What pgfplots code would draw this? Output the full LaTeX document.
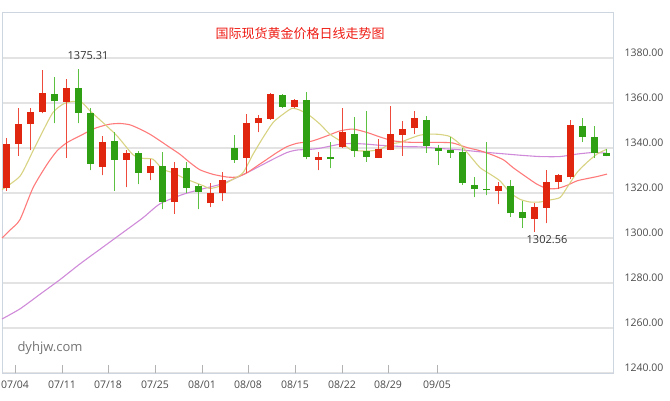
\documentclass[border=0pt]{standalone}
\usepackage{pgfplots}
\pgfplotsset{compat=1.18}
\usepackage{pgfplotstable}
\usepackage{fontspec}
\setmainfont{Open Sans}
\newfontfamily\cjk{Noto Sans CJK SC}

\definecolor{upred}{HTML}{E0260E}
\definecolor{upwick}{HTML}{EE4B3C}
\definecolor{dngreen}{HTML}{2FA014}
\definecolor{dnwick}{HTML}{5CC040}
\definecolor{maA}{HTML}{D8D383}
\definecolor{maB}{HTML}{FF7B7B}
\definecolor{maC}{HTML}{CF8BD9}
\definecolor{gridc}{HTML}{E3E3E3}
\definecolor{framec}{HTML}{CDD6E0}
\definecolor{titlered}{HTML}{EE1C14}
\definecolor{labc}{HTML}{4A4A4A}

% up (red) candles: x = pixel position, o h l c
\pgfplotstableread{
x o h l c
6   1322.1 1344.6 1320.9 1342.0
18  1341.7 1358.0 1336.5 1350.6
30  1350.6 1358.0 1339.0 1355.8
42  1356.1 1374.8 1355.4 1364.3
66  1360.5 1370.6 1335.7 1366.6
102 1331.5 1345.4 1327.8 1342.7
126 1334.8 1339.0 1322.6 1337.7
150 1328.9 1335.0 1325.6 1331.9
174 1316.0 1334.0 1310.8 1331.0
210 1315.4 1324.6 1313.7 1320.1
222 1320.1 1329.3 1316.4 1325.6
246 1335.7 1355.3 1329.0 1350.9
258 1350.9 1354.6 1346.9 1353.3
270 1352.8 1364.3 1352.5 1364.0
294 1358.3 1361.7 1358.0 1361.3
318 1334.8 1338.4 1330.1 1336.2
342 1340.5 1357.7 1340.2 1346.9
378 1335.7 1343.9 1335.5 1339.4
390 1339.3 1358.5 1339.0 1346.4
402 1345.8 1352.1 1336.5 1348.6
414 1348.7 1356.3 1346.2 1353.2
498 1320.9 1325.1 1315.0 1323.2
534 1308.6 1315.4 1302.56 1313.8
546 1313.5 1330.3 1306.5 1325.1
558 1325.1 1328.6 1321.7 1327.8
570 1326.9 1352.6 1326.1 1350.3
}\uptable

% down (green) candles
\pgfplotstableread{
x o h l c
54  1364.0 1371.4 1350.9 1360.7
78  1366.8 1375.31 1351.0 1355.5
90  1355.5 1358.0 1330.1 1333.0
114 1342.9 1346.9 1320.9 1334.8
138 1338.0 1338.5 1323.8 1328.9
162 1331.9 1338.4 1312.7 1316.1
186 1331.0 1334.0 1320.0 1322.1
198 1323.1 1324.1 1312.7 1320.6
234 1339.9 1345.8 1333.5 1334.5
282 1363.5 1363.8 1358.0 1358.3
306 1361.3 1364.7 1335.0 1336.0
330 1335.8 1342.7 1331.0 1335.0
354 1346.4 1353.8 1336.0 1338.7
366 1338.7 1356.5 1333.9 1336.0
426 1352.6 1354.1 1338.0 1341.0
438 1340.2 1341.4 1332.4 1338.8
450 1339.2 1344.7 1335.6 1338.0
462 1338.3 1340.2 1323.7 1324.6
474 1323.4 1326.9 1318.2 1321.7
486 1322.0 1342.5 1319.0 1321.2
510 1323.2 1325.8 1309.5 1311.0
522 1311.7 1316.3 1304.6 1309.0
582 1349.9 1353.2 1342.8 1345.0
594 1345.0 1349.6 1335.6 1338.0
606 1338.0 1339.5 1336.3 1336.5
}\dntable

\begin{document}
\begin{tikzpicture}
\begin{axis}[
  scale only axis, width=611pt, height=360pt,
  xmin=2, xmax=613, ymin=1240, ymax=1400,
  clip=false,
  axis line style={draw=framec, line width=1pt},
  ytick={1240,1260,1280,1300,1320,1340,1360,1380},
  yticklabels={1240.00,1260.00,1280.00,1300.00,1320.00,1340.00,1360.00,1380.00},
  yticklabel pos=right,
  ytick style={draw opacity=0},
  yticklabel style={font=\fontsize{10.5}{12}\selectfont, text=labc, xshift=8pt, yshift=5pt},
  ymajorgrids, grid style={draw=gridc, line width=1.2pt},
  xtick={15,62,108,155,202,248,295,342,388,437},
  xticklabels={07/04,07/11,07/18,07/25,08/01,08/08,08/15,08/22,08/29,09/05},
  xtick pos=bottom, xtick align=inside,
  xtick style={draw opacity=0},
  major tick length=8pt,
  xticklabel style={font=\fontsize{10.5}{12}\selectfont, text=labc, yshift=-4pt},
  candle/.style={only marks, mark=*, mark size=0pt, mark options={draw=none, fill=none}},
]
\coordinate (SW) at (rel axis cs:0,0);
\coordinate (NE) at (rel axis cs:1,1);

% tick marks on the lower frame
\addplot[candle, error bars/.cd, y dir=plus, y explicit, error mark=none,
  error bar style={draw=black!30, line width=0.8pt}]
  coordinates {(15,1240) +- (0,3.6) (62,1240) +- (0,3.6) (108,1240) +- (0,3.6)
  (155,1240) +- (0,3.6) (202,1240) +- (0,3.6) (248,1240) +- (0,3.6)
  (295,1240) +- (0,3.6) (342,1240) +- (0,3.6) (388,1240) +- (0,3.6) (437,1240) +- (0,3.6)};

% moving averages
\addplot[maC, line width=1.1pt, smooth, tension=0.4] coordinates {
(2,1264) (20,1268.5) (40,1275) (60,1281.5) (80,1288.5) (100,1295) (120,1301.5)
(143,1309) (160,1315.2) (183,1319.4) (204,1322) (220,1323.8) (233,1326.1)
(247,1329) (260,1332) (273,1335) (287,1338) (297,1339.1) (310,1339.4)
(320,1339.9) (340,1341.7) (353,1342) (367,1341.7) (380,1341.2) (393,1340.9)
(404,1340.6) (420,1340.5) (440,1339.8) (460,1339.2) (480,1338.3) (504,1337.4)
(520,1336.8) (540,1336.2) (560,1336.2) (577,1337.3) (593,1338) (607,1337.7)};
\addplot[maB, line width=1.1pt, smooth, tension=0.4] coordinates {
(2,1300) (10,1303.5) (20,1308.2) (33,1322.3) (47,1332.7) (57,1338.7) (67,1342.4)
(80,1345.4) (93,1348.4) (100,1349.5) (110,1350.6) (120,1350.9) (130,1350.3)
(140,1348.4) (150,1346.1) (160,1343.2) (170,1340.2) (180,1337.2) (190,1333.5)
(200,1330.3) (213,1328.3) (227,1327.1) (237,1327.1) (247,1329) (257,1332)
(267,1335) (277,1338) (287,1340.6) (297,1342.1) (304,1342.5) (313,1343.2)
(327,1345.4) (340,1347.6) (353,1348.4) (367,1346.9) (380,1344.9) (393,1343.2)
(404,1342.7) (413,1342.5) (427,1342.5) (440,1342.5) (453,1342.2) (467,1340.2)
(480,1338.8) (493,1336.8) (504,1334.6) (513,1331.3) (527,1326.9) (537,1323.9)
(547,1322) (557,1322) (567,1323.4) (577,1325.4) (587,1326.4) (597,1327.3) (607,1328.4)};
\addplot[maA, line width=1.1pt, smooth, tension=0.4] coordinates {
(2,1321.5) (20,1327.5) (33,1338.7) (43,1347.6) (53,1355.8) (63,1359.5) (73,1360.7)
(82,1360.2) (90,1356.5) (100,1352.5) (117,1345.4) (133,1337.0) (143,1335.4)
(153,1335.0) (163,1330.5) (173,1329) (183,1326.8) (193,1325) (204,1323.1)
(210,1322) (220,1323.1) (233,1326.1) (243,1329) (253,1337.2) (263,1344.6)
(273,1351.3) (283,1355) (292,1357.6) (300,1356.8) (310,1354.3) (320,1350.6)
(330,1346.1) (340,1343.2) (350,1339.4) (360,1338.7) (370,1338.7) (380,1339.4)
(390,1341.7) (400,1342.5) (410,1344.2) (420,1345.7) (430,1346.2) (440,1346)
(450,1345.1) (460,1341.7) (470,1336.5) (480,1331.3) (490,1328.4) (500,1325.4)
(510,1320.2) (520,1317.2) (530,1316) (540,1316) (550,1316.9) (560,1318)
(567,1322.4) (577,1329.1) (587,1333.6) (597,1337.3) (607,1339.5)};

% wicks
\addplot[candle, error bars/.cd, y dir=plus, y explicit,
  error mark=none, error bar style={draw=upwick, line width=1pt}]
  table[x=x, y=l, y error plus expr=\thisrow{h}-\thisrow{l}] {\uptable};
\addplot[candle, error bars/.cd, y dir=plus, y explicit,
  error mark=none, error bar style={draw=dnwick, line width=1pt}]
  table[x=x, y=l, y error plus expr=\thisrow{h}-\thisrow{l}] {\dntable};
% bodies
\addplot[candle, error bars/.cd, y dir=plus, y explicit,
  error mark=none, error bar style={draw=upred, line width=7pt}]
  table[x=x, y=o, y error plus expr=\thisrow{c}-\thisrow{o}] {\uptable};
\addplot[candle, error bars/.cd, y dir=plus, y explicit,
  error mark=none, error bar style={draw=dngreen, line width=7pt}]
  table[x=x, y=c, y error plus expr=\thisrow{o}-\thisrow{c}] {\dntable};

% texts
\node[font=\cjk\fontsize{13}{15}\selectfont, text=titlered] at (rel axis cs:0.488,0.944) {国际现货黄金价格日线走势图};
\node[anchor=west, font=\fontsize{13}{15}\selectfont, text=black!55] at (rel axis cs:0.0196,0.069) {dyhjw.com};
\node[font=\fontsize{11}{13}\selectfont, text=black!80] at (axis cs:88,1381) {1375.31};
\node[font=\fontsize{11}{13}\selectfont, text=black!80] at (axis cs:547,1299.3) {1302.56};
\end{axis}
\pgfresetboundingbox
\path[use as bounding box] ([xshift=-2pt,yshift=-27pt]SW) rectangle ([xshift=57pt,yshift=13pt]NE);
\end{tikzpicture}
\end{document}
